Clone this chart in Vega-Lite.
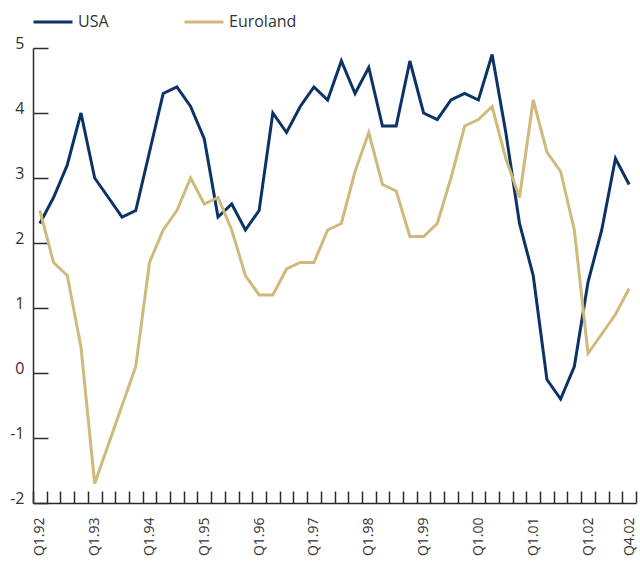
{
  "$schema": "https://vega.github.io/schema/vega-lite/v6.json",
  "width": 603,
  "height": 455,
  "autosize": {"type": "none"},
  "padding": {"left": 33, "top": 48, "right": 4, "bottom": 61},
  "background": "white",
  "config": {
    "view": {"stroke": null},
    "font": "Open Sans",
    "axis": {"domainColor": "#2b2b2b", "tickColor": "#2b2b2b", "labelColor": "#333333", "labelFont": "Open Sans", "labelFontSize": 14, "grid": false, "domainWidth": 1.5, "tickWidth": 1.5}
  },
  "data": {
    "values": [
      {"q": "Q1.92", "USA": 2.3, "Euroland": 2.5},
      {"q": "Q2.92", "USA": 2.7, "Euroland": 1.7},
      {"q": "Q3.92", "USA": 3.2, "Euroland": 1.5},
      {"q": "Q4.92", "USA": 4.0, "Euroland": 0.4},
      {"q": "Q1.93", "USA": 3.0, "Euroland": -1.7},
      {"q": "Q2.93", "USA": 2.7, "Euroland": -1.1},
      {"q": "Q3.93", "USA": 2.4, "Euroland": -0.5},
      {"q": "Q4.93", "USA": 2.5, "Euroland": 0.1},
      {"q": "Q1.94", "USA": 3.4, "Euroland": 1.7},
      {"q": "Q2.94", "USA": 4.3, "Euroland": 2.2},
      {"q": "Q3.94", "USA": 4.4, "Euroland": 2.5},
      {"q": "Q4.94", "USA": 4.1, "Euroland": 3.0},
      {"q": "Q1.95", "USA": 3.6, "Euroland": 2.6},
      {"q": "Q2.95", "USA": 2.4, "Euroland": 2.7},
      {"q": "Q3.95", "USA": 2.6, "Euroland": 2.2},
      {"q": "Q4.95", "USA": 2.2, "Euroland": 1.5},
      {"q": "Q1.96", "USA": 2.5, "Euroland": 1.2},
      {"q": "Q2.96", "USA": 4.0, "Euroland": 1.2},
      {"q": "Q3.96", "USA": 3.7, "Euroland": 1.6},
      {"q": "Q4.96", "USA": 4.1, "Euroland": 1.7},
      {"q": "Q1.97", "USA": 4.4, "Euroland": 1.7},
      {"q": "Q2.97", "USA": 4.2, "Euroland": 2.2},
      {"q": "Q3.97", "USA": 4.8, "Euroland": 2.3},
      {"q": "Q4.97", "USA": 4.3, "Euroland": 3.1},
      {"q": "Q1.98", "USA": 4.7, "Euroland": 3.7},
      {"q": "Q2.98", "USA": 3.8, "Euroland": 2.9},
      {"q": "Q3.98", "USA": 3.8, "Euroland": 2.8},
      {"q": "Q4.98", "USA": 4.8, "Euroland": 2.1},
      {"q": "Q1.99", "USA": 4.0, "Euroland": 2.1},
      {"q": "Q2.99", "USA": 3.9, "Euroland": 2.3},
      {"q": "Q3.99", "USA": 4.2, "Euroland": 3.0},
      {"q": "Q4.99", "USA": 4.3, "Euroland": 3.8},
      {"q": "Q1.00", "USA": 4.2, "Euroland": 3.9},
      {"q": "Q2.00", "USA": 4.9, "Euroland": 4.1},
      {"q": "Q3.00", "USA": 3.7, "Euroland": 3.3},
      {"q": "Q4.00", "USA": 2.3, "Euroland": 2.7},
      {"q": "Q1.01", "USA": 1.5, "Euroland": 4.2},
      {"q": "Q2.01", "USA": -0.1, "Euroland": 3.4},
      {"q": "Q3.01", "USA": -0.4, "Euroland": 3.1},
      {"q": "Q4.01", "USA": 0.1, "Euroland": 2.2},
      {"q": "Q1.02", "USA": 1.4, "Euroland": 0.3},
      {"q": "Q2.02", "USA": 2.2, "Euroland": 0.6},
      {"q": "Q3.02", "USA": 3.3, "Euroland": 0.9},
      {"q": "Q4.02", "USA": 2.9, "Euroland": 1.3}
    ]
  },
  "transform": [{"fold": ["USA", "Euroland"], "as": ["series", "value"]}],
  "mark": {"type": "line", "strokeWidth": 3},
  "encoding": {
    "x": {
      "field": "q",
      "type": "ordinal",
      "sort": null,
      "scale": {"type": "band", "paddingInner": 0, "paddingOuter": 0},
      "axis": {
        "title": null,
        "orient": "bottom",
        "tickBand": "extent",
        "tickSize": -12,
        "labelAngle": -90,
        "labelPadding": 26,
        "labelOverlap": false,
        "labelExpr": "isString(datum.value) && (slice(datum.value, 0, 3) == 'Q1.' || datum.value == 'Q4.02') ? datum.value : ''"
      }
    },
    "y": {
      "field": "value",
      "type": "quantitative",
      "scale": {"domain": [-2, 5], "nice": false, "zero": false},
      "axis": {
        "title": null,
        "values": [-2, -1, 0, 1, 2, 3, 4, 5],
        "labelExpr": "'' + datum.value",
        "tickSize": -15,
        "labelPadding": 24,
        "labelFontSize": 16,
        "labelOffset": -5
      }
    },
    "color": {
      "field": "series",
      "type": "nominal",
      "scale": {"domain": ["USA", "Euroland"], "range": ["#0b3366", "#cfba7c"]},
      "legend": {
        "title": null,
        "orient": "none",
        "legendX": -1,
        "legendY": -47,
        "direction": "horizontal",
        "columns": 2,
        "gridAlign": "all",
        "columnPadding": 32,
        "symbolType": "stroke",
        "symbolSize": 1521,
        "symbolStrokeWidth": 3,
        "labelFontSize": 16,
        "labelColor": "#333333",
        "labelFont": "Open Sans",
        "labelOffset": 4
      }
    }
  }
}
